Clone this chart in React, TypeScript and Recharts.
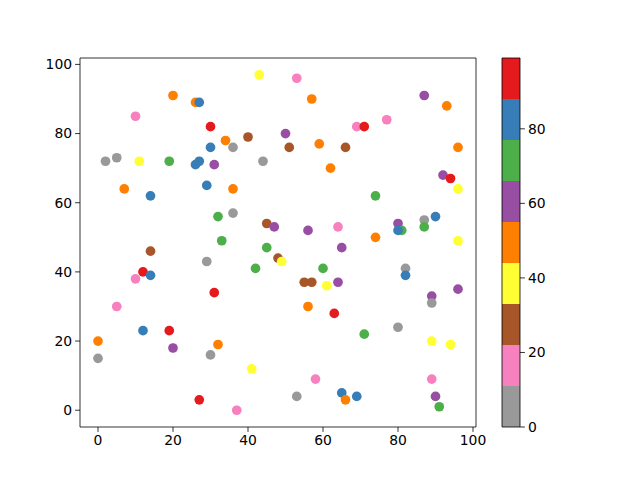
import { ScatterChart, Scatter, XAxis, YAxis, Cell, BarChart, Bar } from 'recharts';

// scatter points: x, y and the colour value
const xs = [
  43, 20, 26, 27, 10, 30, 34, 40, 30, 36, 2, 5, 11, 19, 26, 27, 31, 44, 7, 14, 29, 36, 32, 36, 45, 47, 33, 45,
  53, 57, 87, 93, 69, 71, 77, 50, 51, 59, 66, 96, 62, 92, 94, 96, 74, 56, 64, 80, 81, 80, 87, 87, 90, 74, 96, 65,
  14, 29, 42, 48, 49, 12, 14, 10, 31, 5, 12, 19, 0, 20, 32, 0, 30, 41, 27, 37,
  60, 82, 82, 55, 57, 61, 64, 89, 89, 96, 56, 63, 80, 71, 89, 94, 58, 89, 53, 65, 66, 69, 90, 91,
];
const ys = [
  97, 91, 89, 89, 85, 82, 78, 79, 76, 76, 72, 73, 72, 72, 71, 72, 71, 72, 64, 62, 65, 64, 56, 57, 54, 53, 49, 47,
  96, 90, 91, 88, 82, 82, 84, 80, 76, 77, 76, 76, 70, 68, 67, 64, 62, 52, 53, 54, 52, 52, 55, 53, 56, 50, 49, 47,
  46, 43, 41, 44, 43, 40, 39, 38, 34, 30, 23, 23, 20, 18, 19, 15, 16, 12, 3, 0,
  41, 41, 39, 37, 37, 36, 37, 33, 31, 35, 30, 28, 24, 22, 20, 19, 9, 9, 4, 5, 3, 4, 4, 1,
];
const cs = [
  38, 49, 49, 82, 16, 93, 49, 27, 82, 5, 5, 5, 38, 71, 82, 82, 60, 5, 49, 82, 82, 49, 71, 5, 27, 60, 71, 71,
  16, 49, 60, 49, 16, 93, 16, 60, 27, 49, 27, 49, 49, 60, 93, 38, 71, 60, 16, 60, 71, 82, 5, 71, 82, 49, 38, 60,
  27, 5, 71, 27, 38, 93, 82, 16, 93, 16, 82, 93, 49, 60, 49, 5, 5, 38, 93, 16,
  71, 5, 82, 27, 27, 38, 60, 60, 5, 60, 49, 93, 5, 71, 38, 38, 16, 16, 5, 82, 49, 82, 60, 71,
];

// Set1 reversed, bottom of the colorbar first
const SET1_R = ['#999999', '#f781bf', '#a65628', '#ffff33', '#ff7f00', '#984ea3', '#4daf4a', '#377eb8', '#e41a1c'];
const C_MAX = 99;
const xTicks = [0, 20, 40, 60, 80, 100];
const yTicks = [0, 20, 40, 60, 80, 100];
const cbTicks = [0, 20, 40, 60, 80];

const points = xs.map((x, i) => ({ x, y: ys[i], c: cs[i] }));
const colourOf = (c: number) => SET1_R[Math.min(SET1_R.length - 1, Math.floor(c / (C_MAX / SET1_R.length)))];

const cbRow: Record<string, number | string> = { name: 'cb' };
SET1_R.forEach((_, i) => {
  cbRow['s' + i] = C_MAX / SET1_R.length;
});
const cbData = [cbRow];

const font = { fontSize: 13.9, fontFamily: 'DejaVu Sans', fill: '#000' };
const line = { stroke: '#000', strokeWidth: 0.8 };

const Dot = (props: any) => <circle cx={props.cx} cy={props.cy} r={4.85} fill={props.fill} />;

export default function App() {
  return (
    <div style={{ position: 'absolute', left: 0, top: 0, width: 640, height: 480, background: '#fff' }}>
      <ScatterChart width={640} height={480} margin={{ top: 57, right: 163, bottom: 0, left: 0 }}>
        <XAxis
          type="number"
          dataKey="x"
          domain={[-4.8, 100.8]}
          ticks={xTicks}
          allowDataOverflow
          height={53}
          tick={font}
          tickSize={4.9}
          tickMargin={3}
          tickLine={line}
          axisLine={line}
        />
        <XAxis xAxisId="top" orientation="top" type="number" domain={[0, 1]} height={1} tick={false} tickLine={false} axisLine={line} />
        <YAxis
          type="number"
          dataKey="y"
          domain={[-4.85, 101.85]}
          ticks={yTicks}
          allowDataOverflow
          width={80}
          tick={font}
          tickSize={4.9}
          tickMargin={3}
          tickLine={line}
          axisLine={line}
        />
        <YAxis yAxisId="right" orientation="right" type="number" domain={[0, 1]} width={1} tick={false} tickLine={false} axisLine={line} />
        <Scatter data={points} shape={Dot} isAnimationActive={false}>
          {points.map((p, i) => (
            <Cell key={i} fill={colourOf(p.c)} />
          ))}
        </Scatter>
      </ScatterChart>

      <div style={{ position: 'absolute', left: 501, top: 0 }}>
        <BarChart width={79} height={480} data={cbData} barCategoryGap={0} margin={{ top: 57, right: 0, bottom: 52, left: 0 }}>
          <XAxis dataKey="name" height={1} tick={false} tickLine={false} axisLine={line} />
          <XAxis xAxisId="top" orientation="top" dataKey="name" height={1} tick={false} tickLine={false} axisLine={line} />
          <YAxis yAxisId="left" orientation="left" width={1} tick={false} tickLine={false} axisLine={line} />
          <YAxis
            yAxisId="cb"
            orientation="right"
            type="number"
            domain={[0, C_MAX]}
            ticks={cbTicks}
            allowDataOverflow
            width={60}
            tick={{ ...font, textAnchor: 'start' }}
            tickSize={4.9}
            tickMargin={3}
            tickLine={line}
            axisLine={line}
          />
          {SET1_R.map((col, i) => (
            <Bar key={i} dataKey={'s' + i} stackId="cb" yAxisId="cb" fill={col} isAnimationActive={false} />
          ))}
        </BarChart>
      </div>
    </div>
  );
}
